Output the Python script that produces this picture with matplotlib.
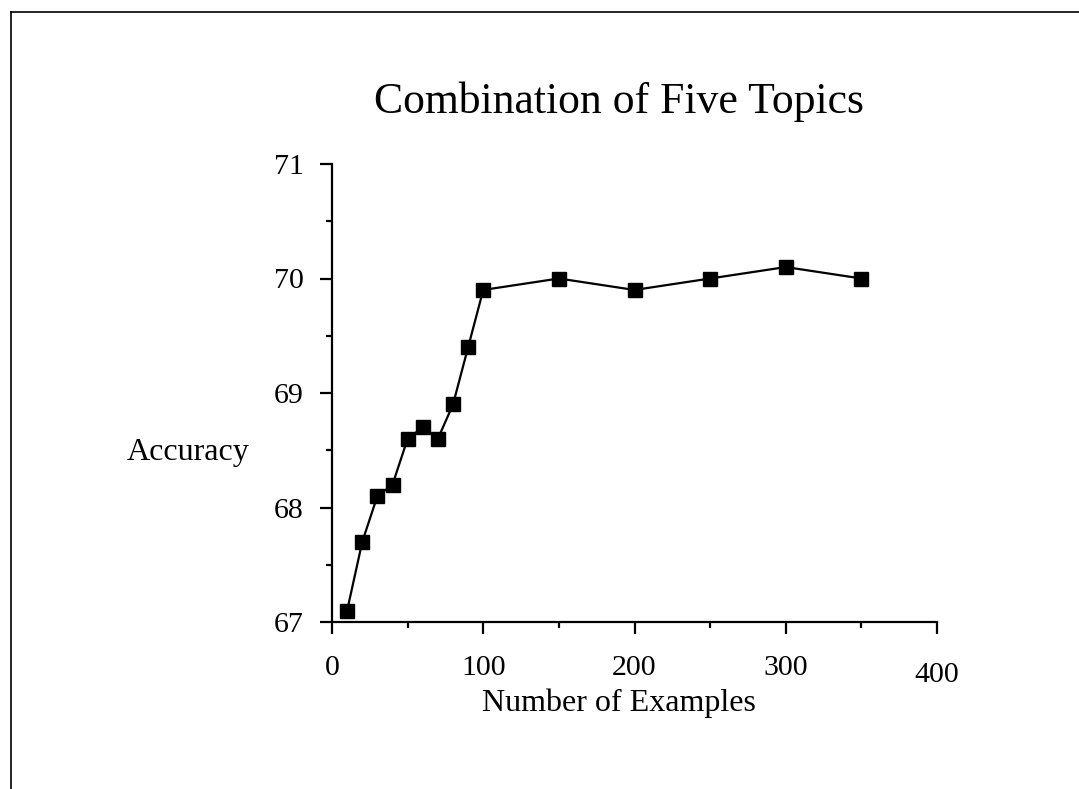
import matplotlib.pyplot as plt
from matplotlib.lines import Line2D
from matplotlib.ticker import MultipleLocator
import matplotlib.transforms as mtransforms

examples = [10, 20, 30, 40, 50, 60, 70, 80, 90, 100, 150, 200, 250, 300, 350]
accuracy = [67.1, 67.7, 68.1, 68.2, 68.6, 68.7, 68.6, 68.9, 69.4, 69.9,
            70.0, 69.9, 70.0, 70.1, 70.0]
xticks = [0, 100, 200, 300, 400]
yticks = [67, 68, 69, 70, 71]

plt.rcParams['font.family'] = ['Liberation Serif', 'DejaVu Serif']

W, H = 1079, 789
fig = plt.figure(figsize=(W / 100, H / 100), dpi=100)
ax = fig.add_axes([332 / W, 1 - 622 / H, 605 / W, 458 / H])

ax.plot(examples, accuracy, color='black', lw=1.6, marker='s', ms=10,
        mfc='black', mec='black', clip_on=False)

ax.set_xlim(0, 400)
ax.set_ylim(67, 71)
ax.set_xticks(xticks)
ax.set_yticks(yticks)
ax.xaxis.set_minor_locator(MultipleLocator(50))
ax.yaxis.set_minor_locator(MultipleLocator(0.5))

for s in ['top', 'right']:
    ax.spines[s].set_visible(False)
for s in ['left', 'bottom']:
    ax.spines[s].set_linewidth(1.6)

ax.tick_params(axis='both', which='major', length=8.5, width=1.6,
               direction='out', labelsize=21.5)
ax.tick_params(axis='both', which='minor', length=4.5, width=1.6,
               direction='out')
ax.tick_params(axis='x', which='major', pad=15)
ax.tick_params(axis='y', which='major', pad=12)

# the "400" label sits a little lower in the original
lab = ax.get_xticklabels()[-1]
lab.set_transform(lab.get_transform() +
                  mtransforms.ScaledTranslation(0, -7 / 100, fig.dpi_scale_trans))

fig.text(619 / W, 1 - 113 / H, 'Combination of Five Topics', fontsize=31.5,
         ha='center', va='baseline')
fig.text(188 / W, 1 - 460 / H, 'Accuracy', fontsize=23,
         ha='center', va='baseline')
fig.text(619 / W, 1 - 711 / H, 'Number of Examples', fontsize=23,
         ha='center', va='baseline')

# page frame on the left and top
fig.add_artist(Line2D([11 / W, 11 / W], [0, 1 - 12 / H], color='black', lw=1.2))
fig.add_artist(Line2D([11 / W, 1], [1 - 12 / H, 1 - 12 / H], color='black', lw=1.2))

fig.savefig('out.png', dpi=100)
